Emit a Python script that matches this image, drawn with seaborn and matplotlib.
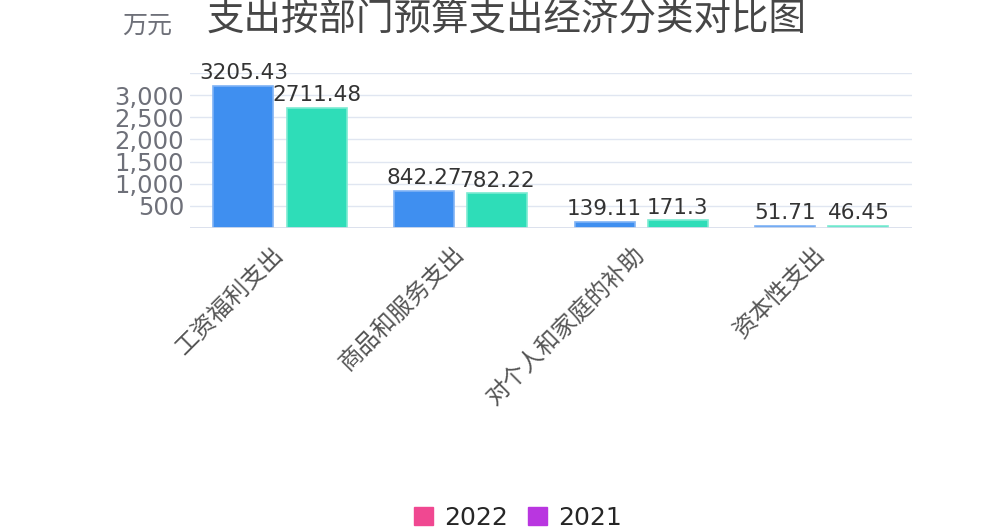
import pandas as pd
import seaborn as sns
import matplotlib.pyplot as plt
from matplotlib.patches import Patch

# 数据
categories = ["工资福利支出", "商品和服务支出", "对个人和家庭的补助", "资本性支出"]
years = ["2022", "2021"]
values_2022 = [3205.43, 842.27, 139.11, 51.71]
values_2021 = [2711.48, 782.22, 171.3, 46.45]
yticks = [500, 1000, 1500, 2000, 2500, 3000]

df = pd.DataFrame({
    "分类": categories * 2,
    "年份": [years[0]] * 4 + [years[1]] * 4,
    "金额": values_2022 + values_2021,
})

sns.set_theme(style="white")
plt.rcParams['font.family'] = ['Noto Sans CJK SC', 'DejaVu Sans']

fig = plt.figure(figsize=(9.98, 5.31), dpi=100)
ax = fig.add_axes([0.190, 0.5706, 0.724, 0.292])

sns.barplot(data=df, x="分类", y="金额", hue="年份", hue_order=years,
            palette=["#3F8FF0", "#2EDDB8"], width=0.81, gap=0.18,
            saturation=1, legend=False, ax=ax)

# 柱子浅色描边
for c, ec in zip(ax.containers, ["#7FB3F5", "#7BEBD2"]):
    for b in c:
        b.set_edgecolor(ec)
        b.set_linewidth(1.2)

for c in ax.containers:
    ax.bar_label(c, labels=[f"{v:g}" for v in c.datavalues], padding=2,
                 fontsize=15.5, color="#333333", family="DejaVu Sans")

ax.set_ylim(0, 3500)
ax.set_yticks(yticks)
ax.set_yticklabels([f"{v:,}" for v in yticks], fontsize=17.5, color="#6E7079",
                   family="DejaVu Sans")
ax.yaxis.grid(True, color="#E0E6F1", lw=1)
ax.axhline(3500, color="#E0E6F1", lw=1)
ax.axhline(0, color="#D5DBEA", lw=1.2)
ax.set_axisbelow(True)
for s in ax.spines.values():
    s.set_visible(False)
ax.tick_params(axis="both", length=0, pad=4)
ax.set_xlabel("")
ax.set_ylabel("")
ax.set_xticks(range(len(categories)))
ax.set_xticklabels(categories, rotation=45, ha="right", va="center",
                   rotation_mode="anchor", fontsize=17, color="#555555")
ax.tick_params(axis="x", pad=16)

fig.text(0.147, 0.951, "万元", fontsize=18, color="#6E7079", ha="center", va="center")
fig.text(0.508, 0.962, "支出按部门预算支出经济分类对比图", fontsize=27, color="#464646",
         ha="center", va="center")

handles = [Patch(color="#F04891"), Patch(color="#B936E0")]
fig.legend(handles, years, loc="center", bbox_to_anchor=(0.519, 0.025), ncol=2,
           frameon=False, handlelength=0.75, handleheight=0.75,
           handletextpad=0.45, columnspacing=0.8,
           prop={"family": "DejaVu Sans", "size": 18})

fig.savefig("out.png", dpi=100)
